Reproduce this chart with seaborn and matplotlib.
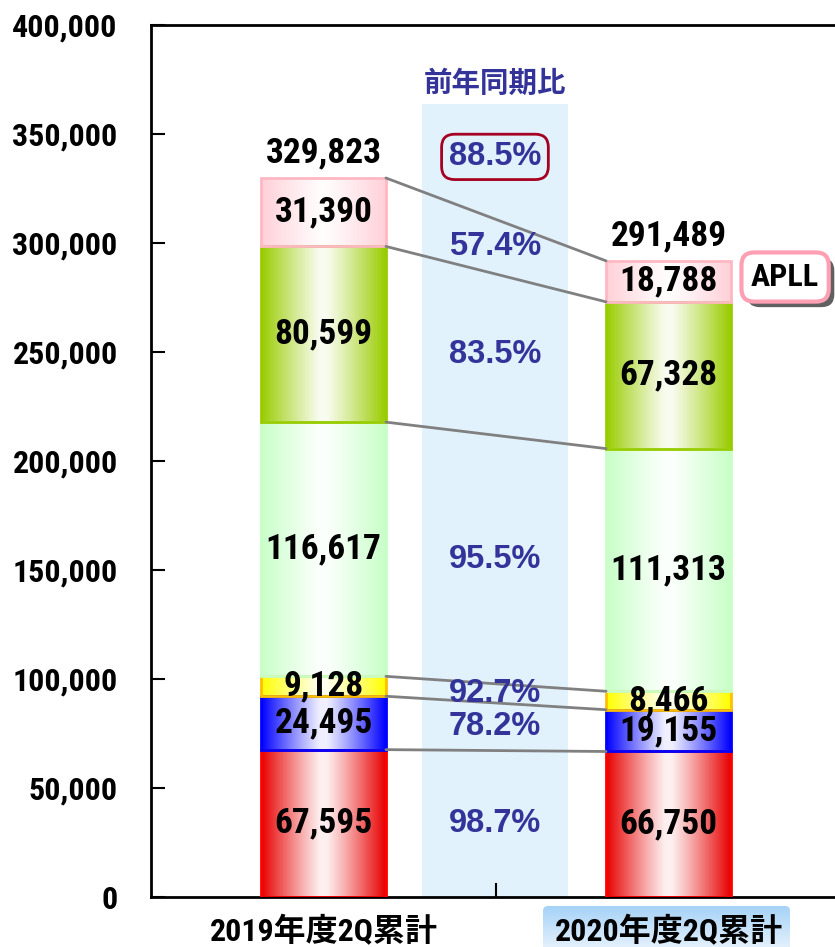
import numpy as np
import matplotlib
matplotlib.use("Agg")
import matplotlib.pyplot as plt
import seaborn as sns
from matplotlib.colors import to_rgb
from matplotlib import patheffects
from matplotlib.patches import FancyBboxPatch
from matplotlib.ticker import FuncFormatter

# --- Data ---
YEARS = ["2019年度2Q累計", "2020年度2Q累計"]
VALUES_2019 = [67595, 24495, 9128, 116617, 80599, 31390]
VALUES_2020 = [66750, 19155, 8466, 111313, 67328, 18788]
TOTAL_LABELS = ["329,823", "291,489"]
YOY_LABELS = ["98.7%", "78.2%", "92.7%", "95.5%", "83.5%", "57.4%"]
YOY_TOTAL = "88.5%"
YOY_TITLE = "前年同期比"
APLL_LABEL = "APLL"
Y_TICKS = [0, 50000, 100000, 150000, 200000, 250000, 300000, 350000, 400000]

# --- Style ---
SEG_COLORS = ["#E80000", "#0000FF", "#FFFF00", "#C8FFC8", "#99CC00", "#FFD0D8"]
SEG_EDGES = ["#FF0000", "#0000FF", "#FFC000", "#C8FFC8", "#99CC00", "#FFB8C4"]
NARROW = ["Roboto Condensed", "PT Sans Narrow", "Liberation Sans", "DejaVu Sans"]
NARROW_CJK = ["Roboto Condensed", "Noto Sans CJK JP", "DejaVu Sans"]
PCT_FONT = ["Liberation Sans", "DejaVu Sans"]
PCT_COLOR = "#333399"
BAR_W = 0.362

sns.set_theme(style="white")
plt.rcParams["font.family"] = NARROW


def fill_gradient(ax, patch, color):
    """Horizontal gradient: colour at both edges, white in the middle."""
    x0, y0 = patch.get_x(), patch.get_y()
    w, h = patch.get_width(), patch.get_height()
    t = np.linspace(0, 1, 256)
    f = np.clip((np.abs(2 * t - 1) - 0.05) / 0.95, 0, 1) ** 1.1
    f = 0.06 + 0.94 * f
    rgb = np.array(to_rgb(color))
    img = 1 - f[:, None] * (1 - rgb[None, :])
    im = ax.imshow(img[None, :, :], extent=(x0, x0 + w, y0, y0 + h),
                   aspect="auto", zorder=2, interpolation="bilinear")
    im.set_clip_path(patch)


fig = plt.figure(figsize=(8.35, 9.47), dpi=100)
ax = fig.add_axes([151 / 835, 50 / 947, 690 / 835, 872 / 947])

# gradient box behind the 2020 category label
bax = fig.add_axes([543 / 835, -8 / 947, 247 / 835, 49 / 947], zorder=-1)
bax.set_xlim(0, 247)
bax.set_ylim(0, 49)
bax.axis("off")
top_c = np.array(to_rgb("#A6D2F7"))
bot_c = np.array(to_rgb("#EEF6FD"))
s = np.linspace(0, 1, 64)[:, None]
grad = top_c * (1 - s) + bot_c * s
box = FancyBboxPatch((0, 0), 247, 49, boxstyle="round,pad=0,rounding_size=5",
                     fc="none", ec="none", transform=bax.transData)
bax.add_patch(box)
gim = bax.imshow(grad[:, None, :], extent=(0, 247, 0, 49), aspect="auto",
                 interpolation="bilinear")
gim.set_clip_path(box)

# light blue comparison band
ax.fill_between([0.285, 0.709], 0, 363800, color="#E1F2FD", zorder=0, lw=0)

bottoms = np.zeros(2)
tops = []
for i in range(len(VALUES_2019)):
    vals = [VALUES_2019[i], VALUES_2020[i]]
    sns.barplot(x=YEARS, y=vals, bottom=bottoms, width=BAR_W, ax=ax,
                color=SEG_COLORS[i], edgecolor=SEG_EDGES[i], linewidth=2)
    for p in ax.patches[-2:]:
        p.set_zorder(3)
        p.set_facecolor("none")
        fill_gradient(ax, p, SEG_COLORS[i])
    mids = bottoms + np.array(vals) / 2
    for j in range(2):
        ax.text(j, mids[j], f"{vals[j]:,}", ha="center", va="center",
                fontsize=25.5, fontweight="bold", color="black", zorder=6,
                family=NARROW)
    ax.text(0.497, mids.mean(), YOY_LABELS[i], ha="center", va="center",
            fontsize=23.5, fontweight="bold", color=PCT_COLOR, zorder=6,
            family=PCT_FONT)
    bottoms = bottoms + np.array(vals)
    tops.append(bottoms.copy())

# connector lines between segment boundaries
for top in tops:
    ax.plot([BAR_W / 2, 1 - BAR_W / 2], top, color="#808080", lw=2, zorder=4)

# totals
for j in range(2):
    ax.text(j, tops[-1][j] + 11500, TOTAL_LABELS[j], ha="center", va="center",
            fontsize=25.5, fontweight="bold", color="black", zorder=6)

ax.text(0.497, 373000, YOY_TITLE, ha="center", va="center", fontsize=20.5,
        fontweight="bold", color=PCT_COLOR, family=["Noto Sans CJK JP", "DejaVu Sans"])
ax.text(0.497, 339500, YOY_TOTAL, ha="center", va="center", fontsize=23.5,
        fontweight="bold", color=PCT_COLOR, family=PCT_FONT, zorder=6,
        bbox=dict(boxstyle="round,pad=0.22,rounding_size=0.4", fc="none",
                  ec="#A50021", lw=2))

apll = ax.text(1.338, 284400, APLL_LABEL, ha="center", va="center", fontsize=23,
               fontweight="bold", color="black", zorder=7,
               bbox=dict(boxstyle="round,pad=0.3,rounding_size=0.4", fc="white",
                         ec="#FF9FB4", lw=3))
apll.get_bbox_patch().set_path_effects([
    patheffects.SimplePatchShadow(offset=(4, -4), shadow_rgbFace="#606060", alpha=1),
    patheffects.Normal()])

# axes
ax.set_xlim(-0.5, 1.5)
ax.set_ylim(0, 400000)
ax.set_yticks(Y_TICKS)
ax.yaxis.set_major_formatter(FuncFormatter(lambda v, _: f"{v:,.0f}"))
ax.set_xticks([0, 1])
ax.set_xticklabels(YEARS)
ax.set_xticks([0.5], minor=True)
ax.tick_params(axis="x", which="major", length=0, pad=14)
ax.tick_params(axis="x", which="minor", direction="in", length=10, width=1.5,
               bottom=True, color="black")
ax.tick_params(axis="y", direction="in", length=10, width=1.5, left=True,
               color="black", pad=24)
for lab in ax.get_yticklabels():
    lab.set_fontsize(23)
    lab.set_fontweight("bold")
    lab.set_family(NARROW)
    lab.set_color("black")
for lab in ax.get_xticklabels():
    lab.set_fontsize(23)
    lab.set_fontweight("bold")
    lab.set_family(NARROW_CJK)
    lab.set_color("black")
ax.set_xlabel("")
ax.set_ylabel("")
for side in ["left", "bottom", "top"]:
    ax.spines[side].set_color("black")
    ax.spines[side].set_linewidth(2)
ax.spines["right"].set_visible(False)
ax.grid(False)

fig.savefig("out.png", dpi=100)
